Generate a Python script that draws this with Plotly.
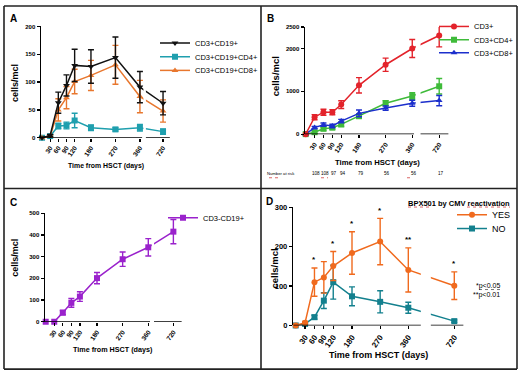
import plotly.graph_objects as go

W, H = 520, 378
FONT = "Liberation Sans, Arial, sans-serif"

# ---------------- data ----------------
days = [0, 30, 60, 90, 120, 180, 270, 360, 720]
tick_days = [30, 60, 90, 120, 180, 270, 360, 720]
tick_text = ["30", "60", "90", "120", "180", "270", "360", "720"]

# Panel A
a_cd3_cd19 = [0, 4, 63, 94, 130, 128, 144, 91, 62]
a_cd3_cd19_err = [0, 2, 19, 19, 29, 30, 37, 28, 21]
a_cd3_cd19_cd4 = [0, 3, 21, 22, 31, 18, 15, 18, 11]
a_cd3_cd19_cd4_err = [0, 1, 5, 6, 13, 5, 3, 6, 5]
a_cd3_cd19_cd8 = [0, 3, 50, 72, 101, 112, 131, 74, 48]
a_cd3_cd19_cd8_err = [0, 2, 20, 20, 22, 27, 35, 29, 20]

# Panel B
b_cd3 = [0, 395, 512, 512, 690, 1140, 1620, 1999, 2303]
b_cd3_err = [0, 60, 70, 60, 90, 180, 155, 210, 265]
b_cd3_cd4 = [0, 45, 125, 150, 228, 418, 722, 889, 1117]
b_cd3_cd4_err = [0, 30, 40, 40, 50, 50, 60, 80, 180]
b_cd3_cd8 = [0, 152, 220, 190, 304, 485, 608, 722, 783]
b_cd3_cd8_err = [0, 30, 40, 40, 40, 80, 50, 70, 120]
b_at_risk = ["", "108", "108", "97", "94", "79", "56", "56", "17"]

# Panel C
c_cd3neg_cd19 = [0, 0, 42, 87, 116, 201, 288, 343, 415]
c_cd3neg_cd19_err = [0, 0, 10, 20, 22, 26, 33, 40, 56]

# Panel D
d_yes = [0, 7, 110, 122, 151, 184, 213, 141, 101]
d_yes_err = [0, 3, 36, 40, 37, 54, 59, 56, 35]
d_no = [0, 4, 21, 63, 110, 74, 60, 45, 11]
d_no_err = [0, 2, 5, 20, 43, 24, 28, 14, 3]
d_sig = ["", "", "*", "", "*", "*", "*", "**", "*"]

# ---------------- geometry (pixels) ----------------
geom = {
    "A": dict(ax="", x0=42.0, xl=41.0, xr=172.0, s=0.272, yt=23.0, yb=137.0, ymax=200,
              yticks=[0, 50, 100, 150, 200], p720=445, gap=(368, 382), xend=470, tf=6),
    "B": dict(ax="2", x0=305.7, xl=305.0, xr=452.0, s=0.296, yt=23.6, yb=133.3, ymax=2500,
              yticks=[0, 1000, 2000, 2500], p720=451, gap=(366, 388), xend=482, tf=6),
    "C": dict(ax="3", x0=45.7, xl=45.0, xr=184.0, s=0.285, yt=214.3, yb=325.5, ymax=500,
              yticks=[0, 100, 200, 300, 400, 500], p720=448, gap=(366, 380), xend=477, tf=6),
    "D": dict(ax="4", x0=295.7, xl=293.3, xr=466.0, s=0.3128, yt=208.3, yb=329.3, ymax=300,
              yticks=[0, 100, 200, 300], p720=507, gap=(400, 432), xend=536, tf=7.5),
}


def xpos(d, g):
    # broken axis: values beyond 360 are shown after the break
    return d if d <= 360 else g["p720"]


fig = go.Figure()


def add_series(panel, vals, err, name, color, symbol, legend_id):
    g = geom[panel]
    fig.add_trace(go.Scatter(
        x=[xpos(d, g) for d in days], y=vals, name=name, mode="lines+markers",
        line=dict(color=color, width=1.5),
        marker=dict(color=color, symbol=symbol, size=6, line=dict(width=0)),
        error_y=dict(type="data", array=err, visible=True, color=color, thickness=1.4, width=3),
        xaxis="x" + g["ax"], yaxis="y" + g["ax"], cliponaxis=False,
        legend=legend_id, showlegend=True))


BLACK = "#111111"
TEAL_A = "#1f9fae"
ORANGE_A = "#e8772e"
RED = "#e3232b"
GREEN = "#3fbb3a"
BLUE = "#1c2fcc"
PURPLE = "#9a22cc"
ORANGE_D = "#f06a1e"
TEAL_D = "#13808e"

add_series("A", a_cd3_cd19_cd4, a_cd3_cd19_cd4_err, "CD3+CD19+CD4+", TEAL_A, "square", "legend2")
add_series("A", a_cd3_cd19_cd8, a_cd3_cd19_cd8_err, "CD3+CD19+CD8+", ORANGE_A, "triangle-up", "legend3")
add_series("A", a_cd3_cd19, a_cd3_cd19_err, "CD3+CD19+", BLACK, "triangle-down", "legend")
add_series("B", b_cd3_cd4, b_cd3_cd4_err, "CD3+CD4+", GREEN, "square", "legend5")
add_series("B", b_cd3_cd8, b_cd3_cd8_err, "CD3+CD8+", BLUE, "triangle-up", "legend6")
add_series("B", b_cd3, b_cd3_err, "CD3+", RED, "circle", "legend4")
add_series("C", c_cd3neg_cd19, c_cd3neg_cd19_err, "CD3-CD19+", PURPLE, "square", "legend7")
add_series("D", d_no, d_no_err, "NO", TEAL_D, "square", "legend9")
add_series("D", d_yes, d_yes_err, "YES", ORANGE_D, "circle", "legend8")

layout = dict(width=W, height=H, margin=dict(l=0, r=0, t=0, b=0),
              paper_bgcolor="white", plot_bgcolor="rgba(0,0,0,0)")

shapes = []
annotations = []

for key, g in geom.items():
    xr = [(g["xl"] - g["x0"]) / g["s"], (g["xr"] - g["x0"]) / g["s"]]
    layout["xaxis" + g["ax"]] = dict(
        domain=[g["xl"] / W, g["xr"] / W], range=xr, autorange=False,
        anchor="y" + g["ax"], showline=False, showgrid=False, zeroline=False,
        ticks="outside", ticklen=3, tickwidth=1.2, tickcolor="black",
        tickmode="array", tickvals=[xpos(d, g) for d in tick_days], ticktext=tick_text,
        tickangle=-55, tickfont=dict(family=FONT, size=g["tf"] + 0.5, color="black", weight="bold"),
        fixedrange=True)
    layout["yaxis" + g["ax"]] = dict(
        domain=[1 - g["yb"] / H, 1 - g["yt"] / H], range=[0, g["ymax"]], autorange=False,
        anchor="x" + g["ax"], showline=True, linecolor="black", linewidth=1.5,
        showgrid=False, zeroline=False, ticks="outside", ticklen=3, tickwidth=1.2,
        tickcolor="black", tickmode="array", tickvals=g["yticks"],
        tickfont=dict(family=FONT, size=g["tf"], color="black", weight="bold"),
        fixedrange=True)
    xref, yref = "x" + g["ax"], "y" + g["ax"]
    # white gap where the axis is broken
    gx0 = max(g["gap"][0], 360 + 3.5 / g["s"])
    shapes.append(dict(type="rect", xref=xref, yref=yref, x0=gx0, x1=g["gap"][1],
                       y0=-0.01 * g["ymax"], y1=g["ymax"], fillcolor="white",
                       line=dict(width=0), layer="above"))
    # x axis line in two segments
    shapes.append(dict(type="line", xref=xref, yref=yref, x0=xr[0], x1=g["gap"][0], y0=0, y1=0,
                       line=dict(color="black", width=1.5), layer="above"))
    shapes.append(dict(type="line", xref=xref, yref=yref, x0=g["gap"][1], x1=g["xend"], y0=0, y1=0,
                       line=dict(color="black", width=1.5), layer="above"))

# panel borders
for xp in [4, 261, 517]:
    shapes.append(dict(type="line", xref="paper", yref="paper", x0=xp / W, x1=xp / W,
                       y0=1 - 374 / H, y1=1 - 2 / H, line=dict(color="#222222", width=1.6)))
for yp in [2, 189, 374]:
    shapes.append(dict(type="line", xref="paper", yref="paper", x0=4 / W, x1=517 / W,
                       y0=1 - yp / H, y1=1 - yp / H, line=dict(color="#222222", width=1.6)))

# spell-check style underlines seen in the reference
for (x0, x1, yp, col) in [(269, 281, 178, "#d04040"), (321, 328, 178, "#d04040"),
                          (407, 412, 178, "#d04040"), (408, 432, 208, "#d04040"),
                          (467, 510, 208, "#d04040"), (479, 502, 292.5, "#555555")]:
    shapes.append(dict(type="line", xref="paper", yref="paper", x0=x0 / W, x1=x1 / W,
                       y0=1 - yp / H, y1=1 - yp / H, line=dict(color=col, width=0.8, dash="dot")))


def ann(text, px, py, size, bold=False, angle=0, xanchor="center", color="black"):
    annotations.append(dict(text=text, x=px / W, y=1 - py / H, xref="paper", yref="paper",
                            xanchor=xanchor, yanchor="middle", showarrow=False, textangle=angle,
                            font=dict(family=FONT, size=size, color=color,
                                      weight="bold" if bold else "normal")))


# panel letters
ann("A", 13, 15, 10, bold=True)
ann("B", 270, 15, 10, bold=True)
ann("C", 13, 203, 10, bold=True)
ann("D", 269, 202, 10, bold=True)

# axis titles
ann("Time from HSCT (days)", 106, 166, 6.9, bold=True)
ann("Time from HSCT (days)", 377, 162, 7.7, bold=True)
ann("Time from HSCT (days)", 113, 354, 7.2, bold=True)
ann("Time from HSCT (days)", 378, 360, 9, bold=True)
ann("cells/mcl", 15, 81, 9, bold=True, angle=-90)
ann("cells/mcl", 275, 74, 9.5, bold=True, angle=-90)
ann("cells/mcl", 15, 260, 9, bold=True, angle=-90)
ann("cells/mcl", 275, 271, 9.5, bold=True, angle=-90)

# number at risk (panel B)
ann("Number at risk", 281, 174, 4.2)
gB = geom["B"]
for d, n in zip(days, b_at_risk):
    if n:
        annotations.append(dict(text=n, x=xpos(d, gB) + 6, y=1 - 174 / H, xref="x2", yref="paper",
                                showarrow=False, xanchor="center", yanchor="middle",
                                font=dict(family=FONT, size=4.6, color="black")))

# panel D extra text
ann("BPX501 by CMV reactivation", 459, 204, 7.5, bold=True)
ann("*p<0.05", 502, 289, 7, xanchor="right")
ann("**p<0.01", 502, 298, 7, xanchor="right")
gD = geom["D"]
for d, v, e, s in zip(days, d_yes, d_yes_err, d_sig):
    if s:
        annotations.append(dict(text=s, x=xpos(d, gD), y=v + e, xref="x4", yref="y4",
                                showarrow=False, xanchor="center", yanchor="middle", yshift=8,
                                font=dict(family=FONT, size=8, color="black", weight="bold")))

# legends (one per item, positioned by pixel of the text start)
leg_pos = {
    "legend": (193, 43), "legend2": (193, 57), "legend3": (193, 71),
    "legend4": (472, 26), "legend5": (472, 39.5), "legend6": (472, 53),
    "legend7": (201, 222), "legend8": (490, 216), "legend9": (490, 230),
}
for lid, (tx, ty) in leg_pos.items():
    big = lid in ("legend8", "legend9")
    dy = 0 if big else -3
    layout[lid] = dict(x=(tx - 38) / W, y=1 - (ty + dy) / H, xanchor="left", yanchor="middle",
                       bgcolor="rgba(0,0,0,0)", borderwidth=0, itemwidth=30,
                       font=dict(family=FONT, size=9 if big else 7.5, color="black"))

layout["shapes"] = shapes
layout["annotations"] = annotations
fig.update_layout(**layout)
fig.write_html("out.html",
               config={"displayModeBar": False, "staticPlot": True},
               post_script="document.body.style.margin='0';document.body.style.padding='0';"
                           "document.body.style.overflow='hidden';")
